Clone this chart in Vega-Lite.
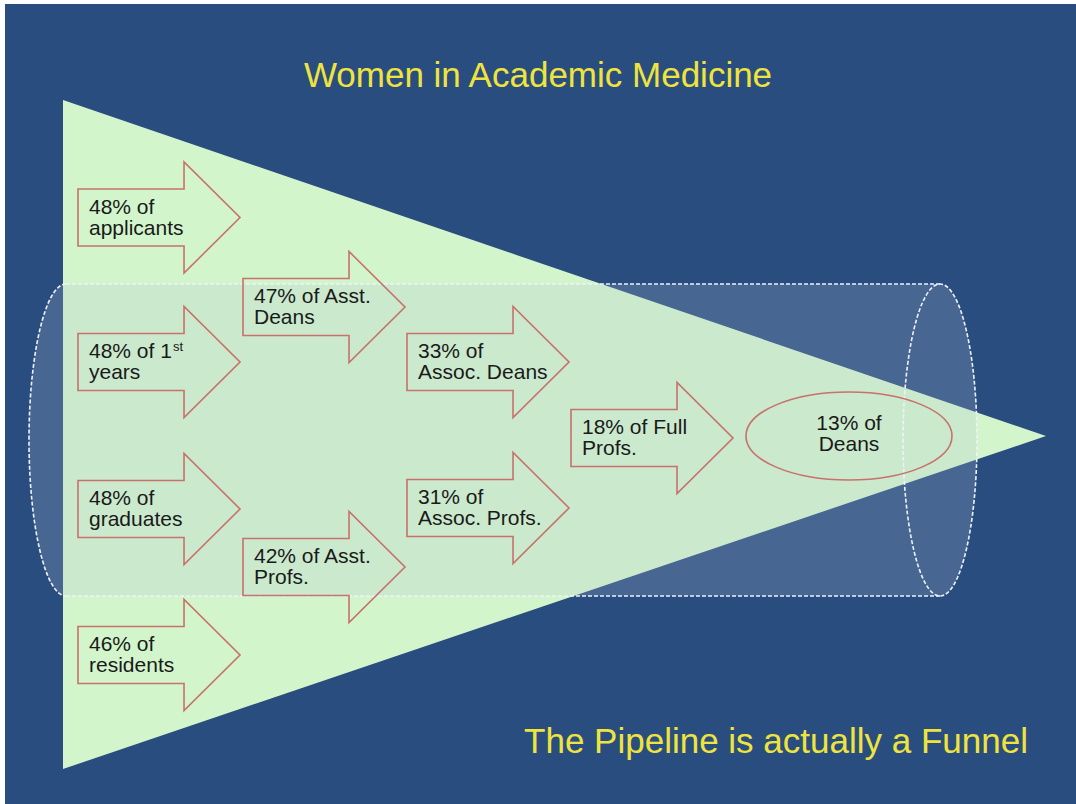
{
  "$schema": "https://vega.github.io/schema/vega-lite/v6.json",
  "width": 1076,
  "height": 804,
  "autosize": {"type": "fit", "contains": "padding"},
  "padding": {"left": 5, "top": 4, "right": 0, "bottom": 0},
  "background": "#ffffff",
  "config": {"view": {"fill": "#2a4d80", "stroke": null}},
  "encoding": {
    "x": {"field": "x", "type": "quantitative", "scale": {"domain": [5, 1076], "nice": false, "zero": false}, "axis": null},
    "y": {"field": "y", "type": "quantitative", "scale": {"domain": [4, 804], "reverse": true, "nice": false, "zero": false}, "axis": null}
  },
  "layer": [
    {
      "data": {"values": [{"x": 63, "y": 100, "y2": 769}, {"x": 1046, "y": 436, "y2": 436}]},
      "mark": {"type": "area", "color": "#d2f5cc", "opacity": 1, "line": false},
      "encoding": {"y2": {"field": "y2"}}
    },
    {
      "data": {"values": [{"x": 66, "x2": 940, "y": 284, "y2": 596}]},
      "mark": {"type": "rect", "fill": "#b2c0d2", "fillOpacity": 0.22, "stroke": null},
      "encoding": {"x2": {"field": "x2"}, "y2": {"field": "y2"}}
    },
    {
      "data": {"values": [{"x": 66, "y": 440}]},
      "mark": {"type": "point", "shape": "M0,-1 C-0.131,-1 -0.2372,-0.5523 -0.2372,0 C-0.2372,0.5523 -0.131,1 0,1 Z", "size": 97344, "filled": true, "fill": "#b2c0d2", "fillOpacity": 0.22, "opacity": 1, "strokeWidth": 0}
    },
    {
      "data": {"values": [{"x": 940, "y": 440}]},
      "mark": {"type": "point", "shape": "M0,-1 C0.131,-1 0.2372,-0.5523 0.2372,0 C0.2372,0.5523 0.131,1 0,1 Z", "size": 97344, "filled": true, "fill": "#b2c0d2", "fillOpacity": 0.22, "opacity": 1, "strokeWidth": 0}
    },
    {
      "data": {"values": [{"x": 66, "x2": 940, "y": 284}, {"x": 66, "x2": 940, "y": 596}]},
      "mark": {"type": "rule", "stroke": "#eef2f7", "strokeWidth": 1.6, "strokeDash": [4, 2]},
      "encoding": {"x2": {"field": "x2"}}
    },
    {
      "data": {"values": [{"x": 66, "y": 440}]},
      "mark": {"type": "point", "shape": "M0,-1 C-0.131,-1 -0.2372,-0.5523 -0.2372,0 C-0.2372,0.5523 -0.131,1 0,1", "size": 97344, "filled": false, "stroke": "#eef2f7", "strokeWidth": 1.6, "strokeDash": [4, 2], "opacity": 1}
    },
    {
      "data": {"values": [{"x": 940, "y": 440}]},
      "mark": {"type": "point", "shape": "M0.2372,0 C0.2372,0.5523 0.131,1 0,1 C-0.131,1 -0.2372,0.5523 -0.2372,0 C-0.2372,-0.5523 -0.131,-1 0,-1 C0.131,-1 0.2372,-0.5523 0.2372,0 Z", "size": 97344, "filled": false, "stroke": "#eef2f7", "strokeWidth": 1.6, "strokeDash": [4, 2], "opacity": 1}
    },
    {
      "data": {"name": "arrows", "values": [
        {"x": 159, "y": 217.5, "label": "48% of\napplicants"},
        {"x": 159, "y": 362, "label": "48% of 1\nyears"},
        {"x": 159, "y": 509, "label": "48% of\ngraduates"},
        {"x": 159, "y": 655, "label": "46% of\nresidents"},
        {"x": 324, "y": 307, "label": "47% of Asst.\nDeans"},
        {"x": 324, "y": 567, "label": "42% of Asst.\nProfs."},
        {"x": 488, "y": 362, "label": "33% of\nAssoc. Deans"},
        {"x": 488, "y": 508, "label": "31% of\nAssoc. Profs."},
        {"x": 652, "y": 438, "label": "18% of Full\nProfs."}
      ]},
      "layer": [
        {
          "mark": {"type": "point", "shape": "M-1,-0.352 L0.309,-0.352 L0.309,-0.685 L1,0 L0.309,0.685 L0.309,0.352 L-1,0.352 Z", "size": 26244, "filled": false, "stroke": "#c9716b", "strokeWidth": 1.6, "opacity": 1}
        },
        {
          "mark": {"type": "text", "align": "left", "baseline": "alphabetic", "dx": -70, "dy": -4, "font": "Liberation Sans, Arial, Helvetica, sans-serif", "fontSize": 21, "lineHeight": 21, "lineBreak": "\n", "color": "#1a1a1a"},
          "encoding": {"text": {"field": "label"}}
        }
      ]
    },
    {
      "data": {"values": [{"x": 159, "y": 362, "label": "st"}]},
      "mark": {"type": "text", "align": "left", "baseline": "alphabetic", "dx": 14, "dy": -11, "font": "Liberation Sans, Arial, Helvetica, sans-serif", "fontSize": 13, "color": "#1a1a1a"},
      "encoding": {"text": {"field": "label"}}
    },
    {
      "data": {"values": [{"x": 849, "y": 436, "label": "13% of\nDeans"}]},
      "layer": [
        {
          "mark": {"type": "point", "shape": "M1,0 C1,0.2359 0.5523,0.4272 0,0.4272 C-0.5523,0.4272 -1,0.2359 -1,0 C-1,-0.2359 -0.5523,-0.4272 0,-0.4272 C0.5523,-0.4272 1,-0.2359 1,0 Z", "size": 42436, "filled": false, "stroke": "#c9716b", "strokeWidth": 1.6, "opacity": 1}
        },
        {
          "mark": {"type": "text", "align": "center", "baseline": "alphabetic", "dy": -6, "font": "Liberation Sans, Arial, Helvetica, sans-serif", "fontSize": 21, "lineHeight": 21, "lineBreak": "\n", "color": "#1a1a1a"},
          "encoding": {"text": {"field": "label"}}
        }
      ]
    },
    {
      "data": {"values": [
        {"x": 538, "y": 87, "label": "Women in Academic Medicine"},
        {"x": 776, "y": 753, "label": "The Pipeline is actually a Funnel"}
      ]},
      "mark": {"type": "text", "align": "center", "baseline": "alphabetic", "font": "Liberation Sans, Arial, Helvetica, sans-serif", "fontSize": 35, "color": "#efe43c"},
      "encoding": {"text": {"field": "label"}}
    }
  ]
}
